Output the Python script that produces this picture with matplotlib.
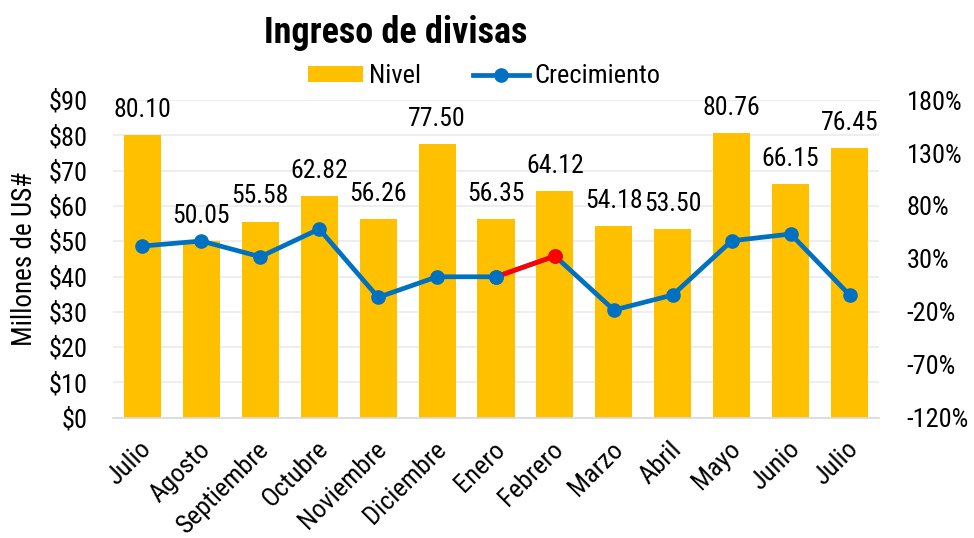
import matplotlib
matplotlib.use("Agg")
import matplotlib.pyplot as plt
from matplotlib.lines import Line2D
from matplotlib.patches import Patch
import matplotlib.transforms as mtransforms

plt.rcParams['font.family'] = ['Liberation Sans Narrow', 'Roboto Condensed', 'DejaVu Sans']

months = ["Julio", "Agosto", "Septiembre", "Octubre", "Noviembre", "Diciembre",
          "Enero", "Febrero", "Marzo", "Abril", "Mayo", "Junio", "Julio"]
nivel = [80.10, 50.05, 55.58, 62.82, 56.26, 77.50, 56.35, 64.12, 54.18, 53.50, 80.76, 66.15, 76.45]
crecimiento = [42.1, 46.9, 32.0, 58.2, -6.3, 13.1, 13.1, 32.7, -18.3, -4.1, 47.1, 53.5, -4.1]
left_ticks = [0, 10, 20, 30, 40, 50, 60, 70, 80, 90]
right_ticks = [-120, -70, -20, 30, 80, 130, 180]

BAR = "#FFC000"
BLUE = "#0070C0"
RED = "#FF0000"
FS = 19

fig = plt.figure(figsize=(9.74, 5.38), dpi=100)
ax = fig.add_axes([0.116, 0.2236, 0.7865, 0.5904])
x = list(range(len(months)))
ax.bar(x, nivel, width=0.63, color=BAR, zorder=2)
ax.set_xlim(-0.5, len(months) - 0.5)
ax.set_ylim(0, 90)
ax.set_yticks(left_ticks)
ax.set_yticklabels([f"${v}" for v in left_ticks], fontsize=FS)
ax.set_xticks(x)
ax.set_xticklabels(months, rotation=45, ha='right', va='center', rotation_mode='anchor', fontsize=19)
ax.tick_params(axis='y', length=0, pad=18)
ax.tick_params(axis='x', length=0, pad=20)
off = mtransforms.ScaledTranslation(5 / 100, 0, fig.dpi_scale_trans)
for lab in ax.get_xticklabels():
    lab.set_transform(lab.get_transform() + off)
for s in ['top', 'right', 'left']:
    ax.spines[s].set_visible(False)
ax.spines['bottom'].set_color('#d9d9d9')
ax.spines['bottom'].set_linewidth(1.2)
ax.grid(axis='y', color='#ebebeb', linewidth=1.2, zorder=0)
ax.set_axisbelow(True)
ax.set_ylabel("Millones de US#", fontsize=19.5, labelpad=8)

for xi, v in zip(x, nivel):
    ax.annotate(f"{v:.2f}", (xi, v), xytext=(0, 13), textcoords='offset points',
                ha='center', va='baseline', fontsize=18.5)

ax2 = ax.twinx()
ax2.set_ylim(-120, 180)
ax2.set_yticks(right_ticks)
ax2.set_yticklabels([f"{v}%" for v in right_ticks], fontsize=FS)
ax2.tick_params(axis='y', length=0, pad=20)
for s in ax2.spines.values():
    s.set_visible(False)

ax2.plot(x, crecimiento, color=BLUE, linewidth=3.4, marker='o', markersize=9.5, zorder=3)
ax2.plot(x[6:8], crecimiento[6:8], color=RED, linewidth=3.4, zorder=4)
ax2.plot([x[7]], [crecimiento[7]], color=RED, marker='o', markersize=9.5, linestyle='none', zorder=5)
ax2.plot([x[6]], [crecimiento[6]], color=BLUE, marker='o', markersize=9.5, linestyle='none', zorder=5)

fig.text(0.406, 0.938, "Ingreso de divisas", ha='center', va='center', fontsize=26, fontweight='bold')

handles = [Patch(facecolor=BAR, edgecolor='none'),
           Line2D([0], [0], color=BLUE, linewidth=3.4, marker='o', markersize=9.5)]
fig.legend(handles, ["Nivel", "Crecimiento"], loc='center', bbox_to_anchor=(0.497, 0.858),
           ncol=2, frameon=False, fontsize=FS, handlelength=2.1, handleheight=0.6,
           handletextpad=0.2, columnspacing=2.0)

fig.savefig("out.png", dpi=100)
